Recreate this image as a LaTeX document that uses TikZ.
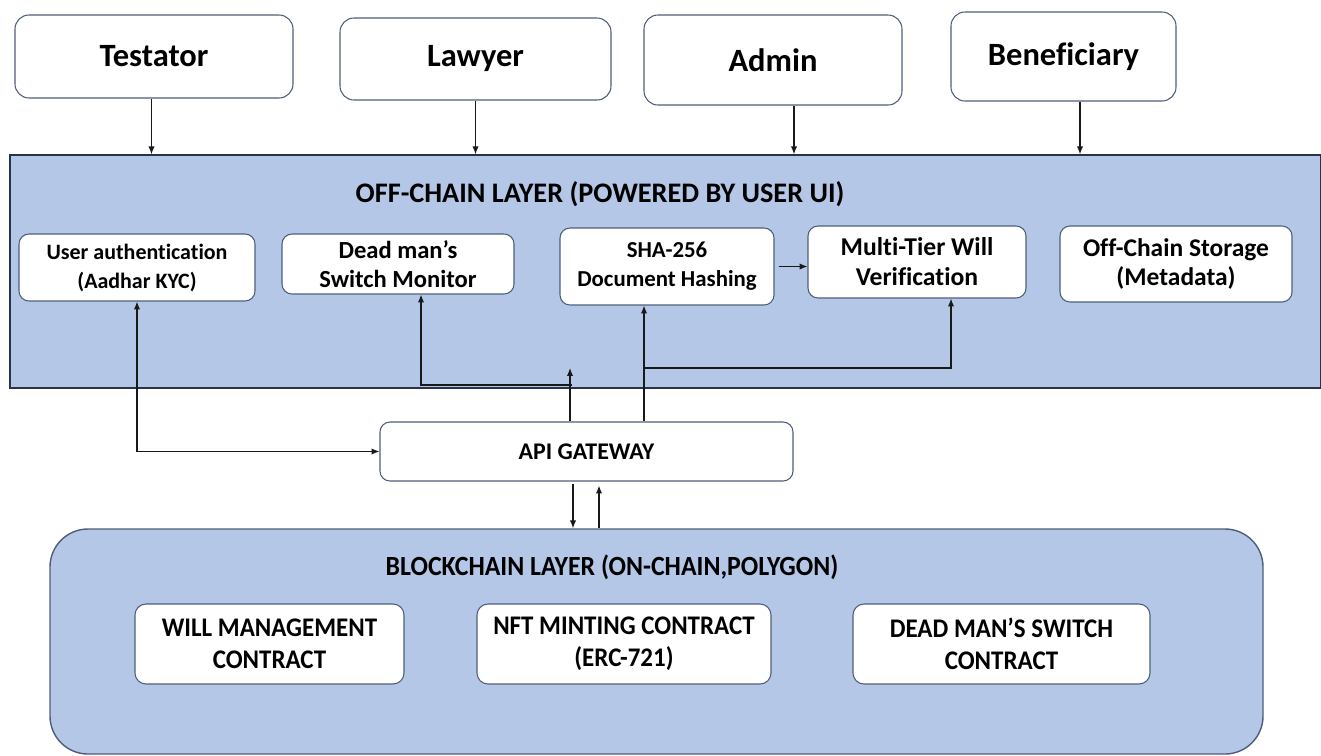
\documentclass[tikz,border=0pt]{standalone}
\usepackage{fontspec}
\setmainfont{Carlito}[Ligatures=NoCommon]
\newfontfamily\condfont{Carlito}[FakeStretch=0.93,Ligatures=NoCommon]
\usetikzlibrary{arrows.meta,calc}
\definecolor{layerfill}{RGB}{180,199,231}
\definecolor{layerline}{RGB}{40,52,76}
\definecolor{boxline}{RGB}{78,94,122}
\definecolor{wire}{RGB}{25,25,25}
\def\pxu{0.02cm}
\tikzset{
  actor/.style={draw=boxline, line width=0.6pt, fill=white, rounded corners=0.28cm, inner sep=0pt,
    font=\bfseries\fontsize{18.5}{22}\selectfont, align=center},
  inbox/.style={draw=boxline, line width=0.6pt, fill=white, rounded corners=0.2cm, inner sep=0pt,
    font=\bfseries\fontsize{13}{16.5}\selectfont, align=center},
  contract/.style={draw=boxline, line width=0.6pt, fill=white, rounded corners=0.22cm, inner sep=0pt,
    font=\condfont\bfseries\fontsize{15.3}{18}\selectfont, align=center},
  apibox/.style={draw=boxline, line width=0.6pt, fill=white, rounded corners=0.2cm, inner sep=0pt,
    font=\bfseries\fontsize{13.6}{16}\selectfont, align=center},
  layer/.style={draw=layerline, line width=0.8pt, fill=layerfill, inner sep=0pt},
  ltitle/.style={font=\bfseries\fontsize{16.1}{20}\selectfont},
  ctitle/.style={font=\condfont\bfseries\fontsize{15.8}{19}\selectfont},
  arr/.style={draw=wire, line width=0.7pt, -{Latex[length=4.5pt,width=3.6pt]}},
  arrboth/.style={draw=wire, line width=0.7pt, {Latex[length=4.5pt,width=3.6pt]}-{Latex[length=4.5pt,width=3.6pt]}}
}
\begin{document}
\begin{tikzpicture}[x=0.02cm,y=-0.02cm]
\useasboundingbox (0,0) rectangle (1321,755);

% layers
\node[layer, minimum width=1310.5*\pxu, minimum height=233*\pxu] (offchain) at (665.25,271.5) {};
\node[layer, draw=boxline, rounded corners=0.76cm, minimum width=1213*\pxu, minimum height=225*\pxu] (chain) at (656.5,641.5) {};

% actors
\node[actor, minimum width=278*\pxu, minimum height=83*\pxu] (testator) at (154,56.5) {Testator};
\node[actor, minimum width=271*\pxu, minimum height=82*\pxu] (lawyer) at (475.5,59) {Lawyer};
\node[actor, minimum width=258*\pxu, minimum height=90*\pxu] (admin) at (773,60) {Admin};
\node[actor, minimum width=225*\pxu, minimum height=89*\pxu] (benef) at (1063.5,56.5) {Beneficiary};

% off-chain content
\node[ltitle] (offtitle) at (600,194) {OFF-CHAIN LAYER (POWERED BY USER UI)};
\node[inbox, minimum width=236*\pxu, minimum height=67*\pxu, font=\bfseries\fontsize{12.5}{16.5}\selectfont] (auth) at (137,267.5) {User authentication\\(Aadhar KYC)};
\node[inbox, minimum width=232*\pxu, minimum height=60*\pxu, font=\bfseries\fontsize{14}{16.5}\selectfont] (deadman) at (398,264) {Dead man’s\\Switch Monitor};
\node[inbox, minimum width=214*\pxu, minimum height=77*\pxu] (sha) at (667,266.5) {SHA-256\\Document Hashing};
\node[inbox, minimum width=218*\pxu, minimum height=72*\pxu, font=\bfseries\fontsize{14.6}{17}\selectfont] (multi) at (917,262) {Multi-Tier Will\\Verification};
\node[inbox, minimum width=232*\pxu, minimum height=76*\pxu, font=\bfseries\fontsize{14.5}{17}\selectfont] (storage) at (1176,264) {Off-Chain Storage\\(Metadata)};

% api
\node[apibox, minimum width=413*\pxu, minimum height=59*\pxu] (api) at (586.5,451.5) {API GATEWAY};

% blockchain content
\node[ctitle] (chaintitle) at (612,567) {BLOCKCHAIN LAYER (ON-CHAIN,POLYGON)};
\node[contract, minimum width=269*\pxu, minimum height=80*\pxu] (will) at (269.5,644) {WILL MANAGEMENT\\CONTRACT};
\node[contract, minimum width=294*\pxu, minimum height=80*\pxu] (nft) at (624,644) {NFT MINTING CONTRACT\\(ERC-721)};
\node[contract, minimum width=297*\pxu, minimum height=80*\pxu] (dms) at (1001.5,644) {DEAD MAN’S SWITCH\\CONTRACT};

% actor arrows
\draw[arr] ([xshift=-2.5*\pxu]testator.south) -- ([xshift=-2.5*\pxu]testator.south |- offchain.north);
\draw[arr] (lawyer.south) -- (lawyer.south |- offchain.north);
\draw[arr] ([xshift=21*\pxu]admin.south) -- ([xshift=21*\pxu]admin.south |- offchain.north);
\draw[arr] ([xshift=16.5*\pxu]benef.south) -- ([xshift=16.5*\pxu]benef.south |- offchain.north);

% off-chain connectors
\draw[arrboth] (auth.south) |- (api.west);
\coordinate (stray) at (570,368);
\draw[arr] (api.north -| stray) -- (stray);
\coordinate (dmj) at (572,385);
\draw[arr] (dmj) -| ([xshift=23*\pxu]deadman.south);
\coordinate (shx) at ([xshift=-23*\pxu]sha.south);
\draw[arr] (api.north -| shx) -- (shx);
\coordinate (brj) at (644,368);
\draw[arr] (brj) -| ([xshift=34*\pxu]multi.south);
\draw[arr] ([xshift=4*\pxu]sha.east) -- (multi.west |- sha.east);

% api <-> chain
\draw[arr] ([xshift=-13.5*\pxu,yshift=-2*\pxu]api.south) -- ([xshift=-13.5*\pxu]api.south |- chain.north);
\draw[arr] ([xshift=12.5*\pxu]api.south |- chain.north) -- ([xshift=12.5*\pxu,yshift=-4*\pxu]api.south);
\end{tikzpicture}
\end{document}
